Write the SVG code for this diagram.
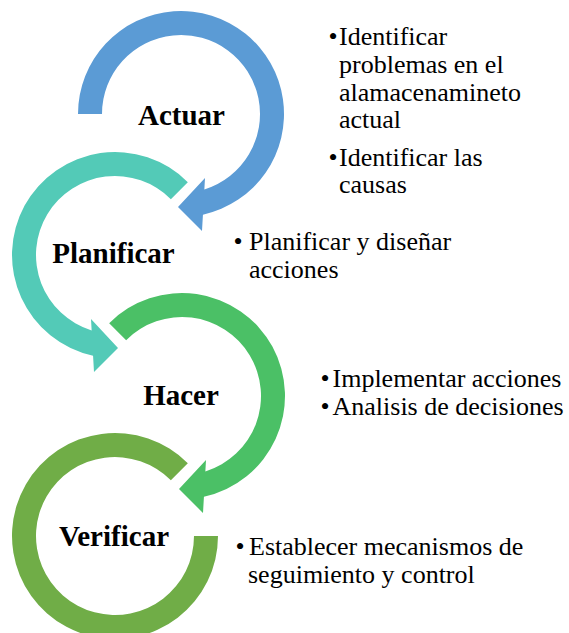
<svg xmlns="http://www.w3.org/2000/svg" width="569" height="633" viewBox="0 0 569 633">
<style>
.lbl{font-family:'Liberation Serif','Times New Roman',serif;font-weight:bold;font-size:29px;fill:#000;text-anchor:middle}
.txt text{font-family:'Liberation Serif','Times New Roman',serif;font-size:26px;fill:#000}
</style>
<rect width="569" height="633" fill="#fff"/>
<g id="node-actuar">
<path fill="#5B9BD5" d="M78,114 A103,103 0 1 1 202.93,214.64 L202,231 L178,207 L205,178 L204.35,189.47 A79,79 0 1 0 102,114 Z"/>
<text class="lbl" x="181.5" y="125">Actuar</text>
</g>
<g id="node-planificar">
<path fill="#53CAB7" d="M187.83,182.17 A103,103 0 1 0 93.07,355.64 L94,372 L118,348 L91,319 L91.65,330.47 A79,79 0 1 1 170.86,199.14 Z"/>
<text class="lbl" x="113.5" y="263">Planificar</text>
</g>
<g id="node-hacer">
<path fill="#4BC066" d="M109.17,323.17 A103,103 0 1 1 203.93,496.64 L203,513 L179,489 L206,460 L205.35,471.47 A79,79 0 1 0 126.14,340.14 Z"/>
<text class="lbl" x="181" y="405">Hacer</text>
</g>
<g id="node-verificar">
<path fill="#70AD47" d="M187.83,463.17 A103,103 0 1 0 218,536 L194,536 A79,79 0 1 1 170.86,480.14 Z"/>
<text class="lbl" x="114" y="546">Verificar</text>
</g>
<g id="connectors"></g>
<g id="text-actuar" class="txt">
<text x="328.5" y="45">•</text>
<text x="339" y="45">Identificar</text>
<text x="339" y="73">problemas en el</text>
<text x="339" y="101">alamacenamineto</text>
<text x="339" y="128">actual</text>
<text x="328.5" y="166">•</text>
<text x="339" y="166">Identificar las</text>
<text x="339" y="193">causas</text>
</g>
<g id="text-planificar" class="txt">
<text x="233.5" y="250">•</text>
<text x="249" y="250">Planificar y diseñar</text>
<text x="249" y="278">acciones</text>
</g>
<g id="text-hacer" class="txt">
<text x="320.5" y="387">•</text>
<text x="332.5" y="387">Implementar acciones</text>
<text x="320.5" y="415">•</text>
<text x="332.5" y="415">Analisis de decisiones</text>
</g>
<g id="text-verificar" class="txt">
<text x="235.5" y="555">•</text>
<text x="249" y="555">Establecer mecanismos de</text>
<text x="248" y="583">seguimiento y control</text>
</g>
</svg>
